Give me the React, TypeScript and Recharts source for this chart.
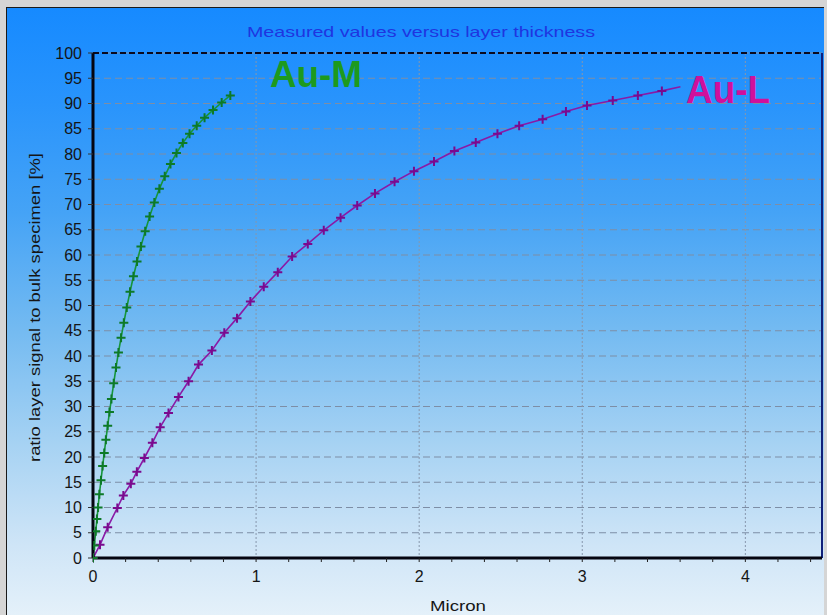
import React from 'react';
import { LineChart, Line, XAxis, YAxis, CartesianGrid, ReferenceLine } from 'recharts';

// ---- data ----
const auMMicron = [0, 0.008, 0.017, 0.024, 0.031, 0.039, 0.049, 0.059, 0.069, 0.079, 0.09, 0.101, 0.113, 0.127, 0.141, 0.156, 0.172, 0.189, 0.207, 0.227, 0.248, 0.27, 0.294, 0.32, 0.347, 0.376, 0.407, 0.44, 0.475, 0.512, 0.551, 0.592, 0.636, 0.684, 0.736, 0.789, 0.842];
const auMRatio = [0, 2.5, 5.3, 7.7, 10.0, 12.6, 15.4, 18.2, 20.8, 23.4, 26.2, 28.9, 31.5, 34.6, 37.7, 40.7, 43.6, 46.6, 49.6, 52.7, 55.8, 58.7, 61.7, 64.7, 67.6, 70.4, 73.1, 75.6, 78.0, 80.2, 82.2, 84.0, 85.6, 87.2, 88.7, 90.2, 91.6];

const auLMicron = [0, 0.043, 0.09, 0.149, 0.186, 0.232, 0.269, 0.315, 0.364, 0.412, 0.463, 0.524, 0.586, 0.647, 0.729, 0.805, 0.883, 0.965, 1.047, 1.133, 1.221, 1.317, 1.415, 1.518, 1.62, 1.729, 1.849, 1.968, 2.091, 2.216, 2.347, 2.48, 2.613, 2.757, 2.9, 3.029, 3.187, 3.341, 3.488, 3.602];
const auLRatio = [0, 2.6, 6.1, 9.9, 12.4, 14.7, 17.1, 19.8, 22.8, 25.9, 28.7, 31.9, 35.0, 38.3, 41.1, 44.6, 47.5, 50.8, 53.7, 56.6, 59.7, 62.2, 64.9, 67.4, 69.8, 72.2, 74.5, 76.6, 78.5, 80.6, 82.3, 84.0, 85.6, 86.9, 88.4, 89.6, 90.6, 91.6, 92.5, 93.3];

const yTicks = [0, 5, 10, 15, 20, 25, 30, 35, 40, 45, 50, 55, 60, 65, 70, 75, 80, 85, 90, 95, 100];
const xMajorTicks = [0, 1, 2, 3, 4];
const xMinorTicks = [0, 0.2, 0.4, 0.6, 0.8, 1, 1.2, 1.4, 1.6, 1.8, 2, 2.2, 2.4, 2.6, 2.8, 3, 3.2, 3.4, 3.6, 3.8, 4, 4.2, 4.4];
const xMax = 4.47;
const yMax = 100;

const titleText = 'Measured values versus layer thickness';
const xLabel = 'Micron';
const yLabel = 'ratio layer signal to bulk specimen [%]';
const seriesNames = ['Au-M', 'Au-L'];

const auM = auMMicron.map((x, i) => ({ x, y: auMRatio[i] }));
const auL = auLMicron.map((x, i) => ({ x, y: auLRatio[i] }));

const FONT = '"Liberation Sans", Arial, sans-serif';

const plusDot = (color: string, lastWithout: boolean, n: number) => (props: any) => {
  const { cx, cy, index } = props;
  if (cx == null || cy == null || (lastWithout && index === n - 1)) return <g key={`d${index}`} />;
  return (
    <path
      key={`d${index}`}
      d={`M${cx - 4.5},${cy}h9M${cx},${cy - 4.5}v9`}
      stroke={color}
      strokeWidth={2}
      fill="none"
    />
  );
};

const xTickRenderer = (props: any) => {
  const { x, y, payload } = props;
  const v = payload.value;
  if (Math.abs(v - Math.round(v)) > 1e-6) return <g />;
  return (
    <text x={x} y={y} dy="0.71em" textAnchor="middle" fill="#151515" fontSize={16} fontFamily={FONT}>
      {Math.round(v)}
    </text>
  );
};

export default function App() {
  return (
    <div
      style={{
        position: 'absolute',
        left: 0,
        top: 0,
        width: 827,
        height: 615,
        background: '#d5d5d5',
        overflow: 'hidden',
        fontFamily: FONT,
      }}
    >
      <div
        style={{
          position: 'absolute',
          left: 6,
          top: 7,
          width: 817,
          height: 640,
          background:
            'linear-gradient(to bottom, #168aff 0%, #2994fc 15%, #45a3f6 32%, #73baf1 50%, #a6d2f3 68%, #cfe5f7 84%, #eef6fb 100%)',
          borderLeft: '1px solid #1a1a1a',
          borderTop: '1px solid #1a1a1a',
        }}
      />
      <div style={{ position: 'absolute', left: 0, top: 0 }}>
        <LineChart width={827} height={615} margin={{ top: 53, right: 5, left: 33, bottom: 27 }}>
          <CartesianGrid horizontal vertical={false} stroke="#7d8ea6" strokeDasharray="7 4" strokeWidth={1.2} />
          <CartesianGrid xAxisId="grid" horizontal={false} vertical stroke="#8797ad" strokeDasharray="2 2" />
          <XAxis
            dataKey="x"
            type="number"
            domain={[0, xMax]}
            ticks={xMinorTicks}
            interval={0}
            allowDataOverflow
            height={30}
            axisLine={{ stroke: '#050510', strokeWidth: 3 }}
            tickLine={{ stroke: '#222', strokeWidth: 1 }}
            tickSize={4}
            tickMargin={9}
            tick={xTickRenderer}
          />
          <XAxis
            xAxisId="grid"
            dataKey="x"
            type="number"
            domain={[0, xMax]}
            ticks={xMajorTicks}
            allowDataOverflow
            hide
          />
          <YAxis
            type="number"
            domain={[0, yMax]}
            ticks={yTicks}
            interval={0}
            width={60}
            axisLine={{ stroke: '#050510', strokeWidth: 3 }}
            tickLine={{ stroke: '#333', strokeWidth: 1 }}
            tickSize={5}
            tickMargin={6}
            tick={{ fill: '#151515', fontSize: 16, fontFamily: FONT }}
          />
          <ReferenceLine y={yMax} stroke="#0a0a1e" strokeWidth={2} strokeDasharray="6 3" />
          <ReferenceLine x={xMax} stroke="#10207a" strokeWidth={2} />
          <Line
            data={auL}
            dataKey="y"
            type="linear"
            stroke="#8a1aa6"
            strokeWidth={1.6}
            dot={plusDot('#7a0a8e', true, auL.length)}
            isAnimationActive={false}
            name={seriesNames[1]}
          />
          <Line
            data={auM}
            dataKey="y"
            type="linear"
            stroke="#16953a"
            strokeWidth={1.6}
            dot={plusDot('#0d7a28', false, auM.length)}
            isAnimationActive={false}
            name={seriesNames[0]}
          />
        </LineChart>
      </div>
      <svg
        width={827}
        height={615}
        style={{ position: 'absolute', left: 0, top: 0, pointerEvents: 'none' }}
      >
        <text x={247} y={37} fontSize={15} fill="#1f35e0" fontFamily={FONT} textLength={348} lengthAdjust="spacingAndGlyphs">
          {titleText}
        </text>
        <text x={430} y={611} fontSize={15} fill="#151515" fontFamily={FONT} textLength={56} lengthAdjust="spacingAndGlyphs">
          {xLabel}
        </text>
        <text
          x={0}
          y={0}
          transform="translate(40,462) rotate(-90)"
          fontSize={15}
          fill="#151515"
          fontFamily={FONT}
          textLength={309}
          lengthAdjust="spacingAndGlyphs"
        >
          {yLabel}
        </text>
        <text x={270} y={87} fontSize={36} fontWeight="bold" fill="#1d9a1d" fontFamily={FONT} textLength={92} lengthAdjust="spacingAndGlyphs">
          {seriesNames[0]}
        </text>
        <text x={686} y={103} fontSize={38} fontWeight="bold" fill="#d0109c" fontFamily={FONT} textLength={84} lengthAdjust="spacingAndGlyphs">
          {seriesNames[1]}
        </text>
      </svg>
    </div>
  );
}
